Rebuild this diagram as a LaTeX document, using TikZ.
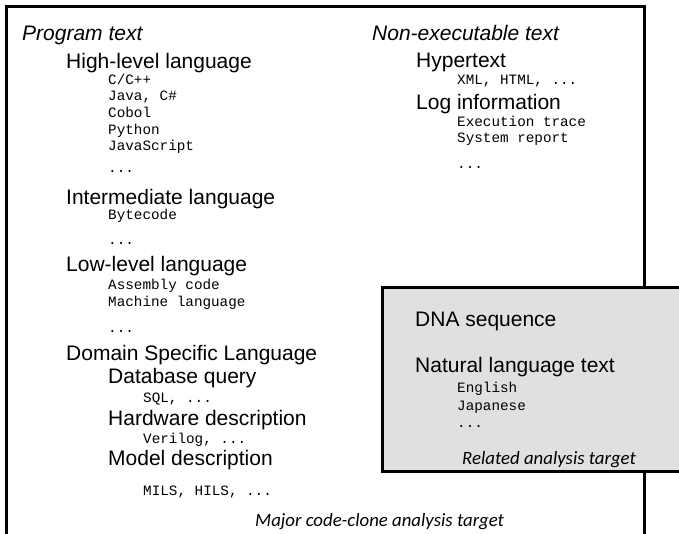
\documentclass[tikz,border=0pt]{standalone}
\usepackage{fontspec}
\setmainfont{Liberation Sans}
\setmonofont{Liberation Mono}
\newfontfamily\notefont{Carlito}
\definecolor{panelgray}{RGB}{224,224,224}
\tikzset{
  frame/.style={draw=black, line width=3pt},
  head/.style={anchor=base west, inner sep=0pt, font=\fontsize{21}{25}\selectfont\itshape},
  cat/.style={anchor=base west, inner sep=0pt, font=\fontsize{21}{25}\selectfont},
  entry/.style={anchor=base west, inner sep=0pt, font=\ttfamily\fontsize{14.3}{17}\selectfont},
  caption/.style={anchor=base west, inner sep=0pt, font=\notefont\itshape\fontsize{18.8}{22}\selectfont},
}
\begin{document}
\begin{tikzpicture}[x=1pt, y=-1pt]
  \clip (0,0) rectangle (679,534);
  % outer frame: major code-clone analysis target
  \draw[frame, fill=white] (6.5,6.5) rectangle (644.5,580);
  % inner grey panel: related analysis target
  \draw[frame, fill=panelgray] (382.5,287.5) rectangle (720,471.5);

  % program text column
  \node[head]  (prog)   at (22,41)   {Program text};
  \node[cat]   (high)   at (66,69)   {High-level language};
  \node[entry] (cpp)    at (108,85)  {C/C++};
  \node[entry] (java)   at (108,101) {Java, C\#};
  \node[entry] (cobol)  at (108,118) {Cobol};
  \node[entry] (python) at (108,135) {Python};
  \node[entry] (js)     at (108,151) {JavaScript};
  \node[entry] (dotsA)  at (108,173) {...};
  \node[cat]   (inter)  at (66,205)  {Intermediate language};
  \node[entry] (byte)   at (108,220) {Bytecode};
  \node[entry] (dotsB)  at (108,245) {...};
  \node[cat]   (low)    at (66,272)  {Low-level language};
  \node[entry] (asm)    at (108,290) {Assembly code};
  \node[entry] (mach)   at (108,306) {Machine language};
  \node[entry] (dotsC)  at (108,332) {...};
  \node[cat]   (dsl)    at (66,360)  {Domain Specific Language};
  \node[cat]   (dbq)    at (108,383) {Database query};
  \node[entry] (sql)    at (143,402) {SQL, ...};
  \node[cat]   (hw)     at (108,425) {Hardware description};
  \node[entry] (veri)   at (143,443) {Verilog, ...};
  \node[cat]   (model)  at (108,465) {Model description};
  \node[entry] (mils)   at (143,495) {MILS, HILS, ...};

  % non-executable text column
  \node[head]  (nonexe) at (372,41)  {Non-executable text};
  \node[cat]   (hyper)  at (416,68)  {Hypertext};
  \node[entry] (xml)    at (457,85)  {XML, HTML, ...};
  \node[cat]   (log)    at (416,110) {Log information};
  \node[entry] (exec)   at (457,127) {Execution trace};
  \node[entry] (sys)    at (457,143) {System report};
  \node[entry] (dotsD)  at (457,169) {...};

  % grey panel contents
  \node[cat]   (dna)    at (415,326) {DNA sequence};
  \node[cat]   (nat)    at (415,372) {Natural language text};
  \node[entry] (eng)    at (457,392) {English};
  \node[entry] (jap)    at (457,410) {Japanese};
  \node[entry] (dotsE)  at (457,427) {...};

  % captions
  \node[caption] (related) at (462,464) {Related analysis target};
  \node[caption] (major)   at (255,526) {Major code-clone analysis target};
\end{tikzpicture}
\end{document}
